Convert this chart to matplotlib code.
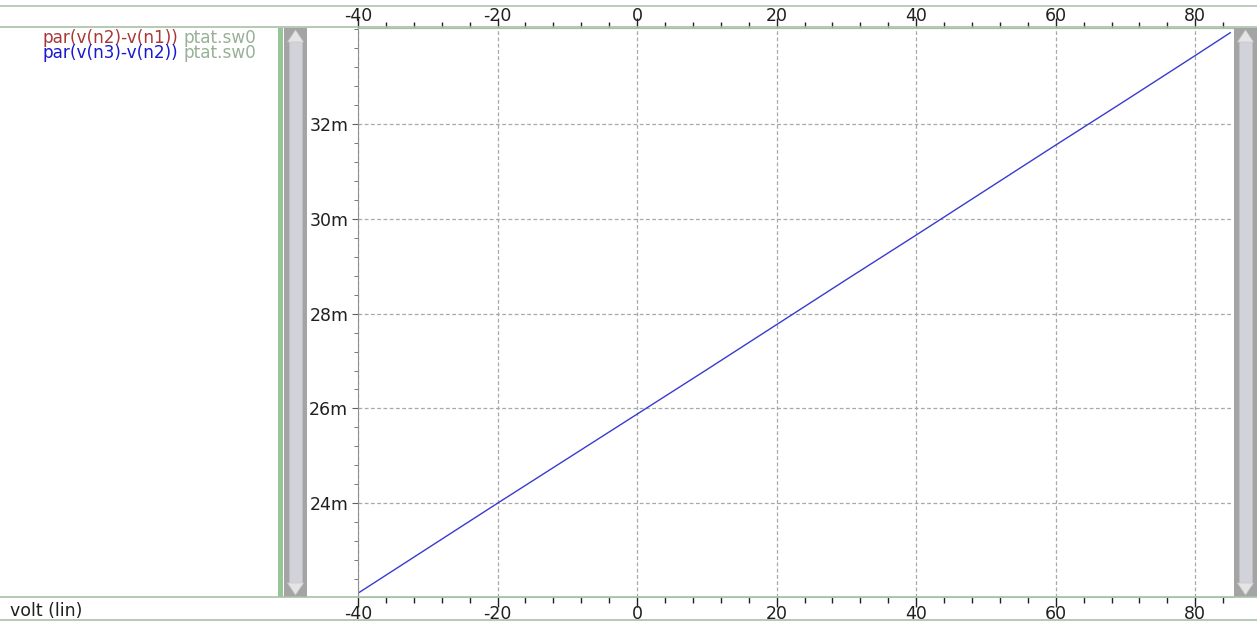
import matplotlib
matplotlib.use("Agg")
import matplotlib.pyplot as plt
from matplotlib.patches import Rectangle, Polygon
from matplotlib.ticker import MultipleLocator, FuncFormatter

plt.rcParams['font.family'] = ['DejaVu Sans']

# Data (temperature sweep vs. measured value, in volts)
temperature = [-40, -30, -20, -10, 0, 10, 20, 30, 40, 50, 60, 70, 80, 85]
v_n3_n2 = [0.02210, 0.02305, 0.02400, 0.02494, 0.02588, 0.02682, 0.02777,
           0.02872, 0.02966, 0.03061, 0.03156, 0.03250, 0.03345, 0.03393]
legend_names = ["par(v(n2)-v(n1))", "par(v(n3)-v(n2))"]
legend_colors = ["#a83838", "#1818d0"]
sweep_name = "ptat.sw0"
x_axis_label = "volt (lin)"
x_major = [-40, -20, 0, 20, 40, 60, 80]
y_major = [0.024, 0.026, 0.028, 0.030, 0.032]

W, H = 1257, 621
fig = plt.figure(figsize=(W / 100, H / 100), dpi=100)
fig.patch.set_facecolor("white")

def fx(px):
    return px / W

def fy(py):
    return 1 - py / H

ax_left, ax_right, ax_top, ax_bot = 358, 1233, 28, 597
ax = fig.add_axes([fx(ax_left), fy(ax_bot), fx(ax_right - ax_left), fy(ax_top) - fy(ax_bot)])
ax.set_facecolor("white")

ax.plot(temperature, v_n3_n2, color="#3a3ad0", lw=1.0)
ax.set_xlim(-40, 85.4)
ax.set_ylim(0.02202, 0.03403)

xfmt = FuncFormatter(lambda v, p: f"{v:.0f}")
ax.set_xticks(x_major)
ax.xaxis.set_minor_locator(MultipleLocator(4))
ax.set_yticks(y_major)
ax.yaxis.set_minor_locator(MultipleLocator(0.0004))
ax.yaxis.set_major_formatter(FuncFormatter(lambda v, p: f"{v*1000:.0f}m"))
ax.xaxis.set_major_formatter(xfmt)

ax.tick_params(axis="x", which="both", top=False, bottom=True, labeltop=False, labelbottom=True,
               direction="out", colors="#202020", labelsize=12.5, pad=-1)
ax.tick_params(axis="x", which="major", length=7, width=1)
ax.tick_params(axis="x", which="minor", length=4, width=1)
ax.tick_params(axis="y", which="both", left=True, right=False, direction="out",
               colors="#606060", labelcolor="#202020", labelsize=12.5, pad=3)
ax.tick_params(axis="y", which="major", length=4)
ax.tick_params(axis="y", which="minor", length=3)

# Top axis with its own label offset
sec = ax.secondary_xaxis("top")
sec.set_xticks(x_major)
sec.xaxis.set_minor_locator(MultipleLocator(4))
sec.xaxis.set_major_formatter(xfmt)
sec.tick_params(axis="x", which="both", direction="out", colors="#202020", labelsize=12.5, pad=-5)
sec.tick_params(axis="x", which="major", length=7, width=1)
sec.tick_params(axis="x", which="minor", length=4, width=1)
sec.spines["top"].set_color("#a8c0a8")

ax.grid(True, which="major", color="#a8a8a8", linestyle=(0, (3, 2)), lw=0.9)
ax.spines["left"].set_color("#909090")
ax.spines["right"].set_visible(False)
ax.spines["top"].set_color("#a8c0a8")
ax.spines["bottom"].set_color("#a8c0a8")

# Frame lines spanning full width
for py, c in [(6, "#b0c4b0"), (27, "#a8c0a8"), (597, "#a8c0a8"), (620, "#a8c0a8")]:
    fig.add_artist(plt.Line2D([0, 1], [fy(py), fy(py)], color=c, lw=1.2, transform=fig.transFigure))

# Scrollbars
def scrollbar(x0, x1, y0, y1):
    fig.add_artist(Rectangle((fx(x0), fy(y1)), fx(x1 - x0), fy(y0) - fy(y1),
                             transform=fig.transFigure, facecolor="#a4a4a4", edgecolor="none"))
    ix0, ix1 = x0 + 5, x1 - 5
    fig.add_artist(Rectangle((fx(ix0), fy(y1 - 12)), fx(ix1 - ix0), fy(y0 + 12) - fy(y1 - 12),
                             transform=fig.transFigure, facecolor="#d2d2da", edgecolor="#c0c0c0", lw=0.5))
    mx = (x0 + x1) / 2
    fig.add_artist(Polygon([(fx(mx - 8), fy(y0 + 14)), (fx(mx + 8), fy(y0 + 14)), (fx(mx), fy(y0 + 2))],
                           closed=True, transform=fig.transFigure, facecolor="#e4e4e4", edgecolor="#c8c8c8", lw=0.5))
    fig.add_artist(Polygon([(fx(mx - 8), fy(y1 - 14)), (fx(mx + 8), fy(y1 - 14)), (fx(mx), fy(y1 - 2))],
                           closed=True, transform=fig.transFigure, facecolor="#e4e4e4", edgecolor="#c8c8c8", lw=0.5))

fig.add_artist(Rectangle((fx(278), fy(597)), fx(5), fy(28) - fy(597), transform=fig.transFigure,
                         facecolor="#98c498", edgecolor="none"))
scrollbar(284, 307, 28, 597)
scrollbar(1234, 1257, 28, 597)

# Legend text
for i, (name, col) in enumerate(zip(legend_names, legend_colors)):
    y = fy(38 + i * 15.5)
    t = fig.text(fx(42), y, name, color=col, fontsize=12.2, va="center", ha="left")
    fig.canvas.draw()
    bb = t.get_window_extent()
    fig.text(bb.x1 / W + fx(6), y, sweep_name, color="#98b098", fontsize=12.2, va="center", ha="left")

fig.text(fx(10), fy(611), x_axis_label, color="#202020", fontsize=12.5, va="center", ha="left")

fig.savefig("out.png", dpi=100, facecolor="white")
